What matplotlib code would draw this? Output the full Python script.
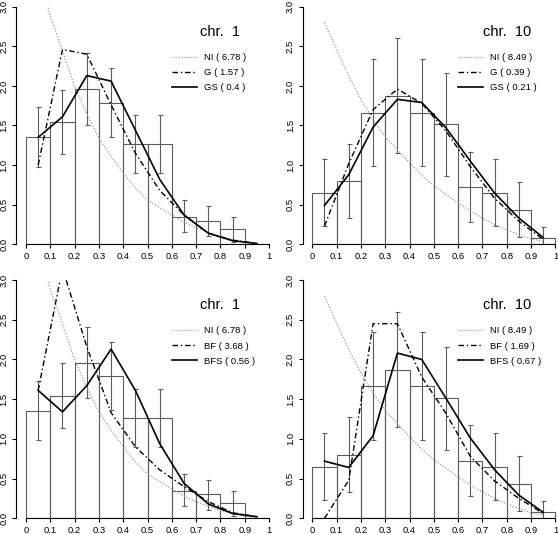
import numpy as np
import matplotlib
matplotlib.use('Agg')
import matplotlib.pyplot as plt

plt.rcParams['font.family'] = ['Liberation Sans', 'DejaVu Sans']

# histogram bins (left edges) and bin centres
bin_left = [0.0, 0.1, 0.2, 0.3, 0.4, 0.5, 0.6, 0.7, 0.8, 0.9]
centers = [0.05, 0.15, 0.25, 0.35, 0.45, 0.55, 0.65, 0.75, 0.85, 0.95]
x_ticks = [0, 0.1, 0.2, 0.3, 0.4, 0.5, 0.6, 0.7, 0.8, 0.9, 1]
x_ticklabels = ['0', '0.1', '0.2', '0.3', '0.4', '0.5', '0.6', '0.7', '0.8', '0.9', '1']
y_ticks = [0.0, 0.5, 1.0, 1.5, 2.0, 2.5, 3.0]

# observed densities + error bars
chr1_hist = [1.35, 1.54, 1.96, 1.79, 1.26, 1.26, 0.35, 0.30, 0.19, 0.0]
chr1_lo = [0.98, 1.14, 1.51, 1.36, 0.90, 0.90, 0.16, 0.11, 0.03, np.nan]
chr1_hi = [1.73, 1.95, 2.41, 2.22, 1.63, 1.63, 0.555, 0.48, 0.34, np.nan]
chr10_hist = [0.65, 0.80, 1.66, 1.87, 1.66, 1.52, 0.72, 0.65, 0.435, 0.08]
chr10_lo = [0.23, 0.33, 0.99, 1.15, 0.99, 0.865, 0.28, 0.23, 0.097, 0.0]
chr10_hi = [1.08, 1.27, 2.34, 2.60, 2.34, 2.16, 1.17, 1.08, 0.79, 0.22]

# NI curve (smooth)
ni_x = [0.05, 0.1, 0.15, 0.2, 0.25, 0.3, 0.35, 0.4, 0.45, 0.5,
        0.55, 0.6, 0.65, 0.7, 0.75, 0.8, 0.85, 0.9, 0.95]
chr1_ni = [3.45, 2.88, 2.45, 1.99, 1.65, 1.34, 1.11, 0.90, 0.71, 0.56,
           0.46, 0.37, 0.28, 0.21, 0.15, 0.10, 0.06, 0.03, 0.01]
chr10_ni = [2.80, 2.46, 2.12, 1.83, 1.57, 1.36, 1.19, 1.03, 0.87, 0.74,
            0.63, 0.52, 0.42, 0.33, 0.25, 0.18, 0.12, 0.07, 0.035]

# model fits at bin centres
chr1_g = [1.0, 2.46, 2.40, 1.76, 1.15, 0.68, 0.37, 0.14, 0.05, 0.01]
chr1_gs = [1.35, 1.61, 2.13, 2.06, 1.44, 0.82, 0.37, 0.14, 0.045, 0.01]
chr1_bf = [1.61, 3.15, 2.16, 1.33, 0.90, 0.61, 0.40, 0.21, 0.07, 0.02]
chr1_bfs = [1.61, 1.34, 1.67, 2.13, 1.61, 0.94, 0.44, 0.18, 0.06, 0.02]
chr10_g = [0.23, 1.02, 1.70, 1.96, 1.78, 1.43, 0.98, 0.58, 0.29, 0.06]
chr10_gs = [0.49, 0.88, 1.48, 1.83, 1.79, 1.47, 1.05, 0.645, 0.33, 0.085]
chr10_bf = [0.0, 0.48, 2.45, 2.45, 1.78, 1.32, 0.78, 0.47, 0.25, 0.06]
chr10_bfs = [0.72, 0.64, 1.04, 2.08, 2.00, 1.51, 1.01, 0.61, 0.29, 0.075]

panels = [
    # rect, title, hist, lo, hi, ni, fit1, fit2, labels
    ([0.0292, 0.5434, 0.4705, 0.4441], 'chr.  1', chr1_hist, chr1_lo, chr1_hi, chr1_ni,
     chr1_g, chr1_gs, ['NI ( 6.78 )', 'G ( 1.57 )', 'GS ( 0.4 )']),
    ([0.5423, 0.5434, 0.4705, 0.4441], 'chr.  10', chr10_hist, chr10_lo, chr10_hi, chr10_ni,
     chr10_g, chr10_gs, ['NI ( 8.49 )', 'G ( 0.39 )', 'GS ( 0.21 )']),
    ([0.0292, 0.0312, 0.4705, 0.4454], 'chr.  1', chr1_hist, chr1_lo, chr1_hi, chr1_ni,
     chr1_bf, chr1_bfs, ['NI ( 6.78 )', 'BF ( 3.68 )', 'BFS ( 0.56 )']),
    ([0.5423, 0.0312, 0.4705, 0.4454], 'chr.  10', chr10_hist, chr10_lo, chr10_hi, chr10_ni,
     chr10_bf, chr10_bfs, ['NI ( 8.49 )', 'BF ( 1.69 )', 'BFS ( 0.67 )']),
]

fig = plt.figure(figsize=(5.58, 5.35), dpi=100)
gray = '#5c5c5c'

for rect, title, hist, lo, hi, ni, fit1, fit2, labels in panels:
    ax = fig.add_axes(rect)
    ax.bar(bin_left, hist, width=0.1, align='edge', fill=False,
           edgecolor=gray, linewidth=0.8)
    lo = np.array(lo)
    hi = np.array(hi)
    mid = (lo + hi) / 2
    ax.errorbar(centers, mid, yerr=[mid - lo, hi - mid], fmt='none',
                ecolor=gray, elinewidth=0.8, capsize=1.8, capthick=0.8)
    l1, = ax.plot(ni_x, ni, color='#999999', lw=0.9, linestyle=(0, (1, 1.4)))
    l2, = ax.plot(centers, fit1, color='black', lw=1.0, linestyle=(0, (4, 2, 1, 2)))
    l3, = ax.plot(centers, fit2, color='black', lw=1.2)

    ax.set_xlim(-0.04, 1.04)
    ax.set_ylim(0, 3)
    for s in ['top', 'right']:
        ax.spines[s].set_visible(False)
    ax.spines['bottom'].set_bounds(0, 1)
    ax.spines['left'].set_bounds(0, 3)
    ax.spines['bottom'].set_linewidth(0.8)
    ax.spines['left'].set_linewidth(0.8)
    ax.set_xticks(x_ticks)
    ax.set_xticklabels(x_ticklabels, fontsize=6.8)
    ax.set_yticks(y_ticks)
    ax.set_yticklabels(['%.1f' % v for v in y_ticks], fontsize=6.8,
                       rotation=90, va='center')
    ax.tick_params(axis='x', length=3, width=0.8, pad=2.2)
    ax.tick_params(axis='y', length=3, width=0.8, pad=2.5)
    ax.patch.set_alpha(0)

    ax.text(0.80, 2.68, title, fontsize=10.5, ha='center', va='center')
    ax.legend([l1, l2, l3], labels, loc='upper left',
              bbox_to_anchor=(0.5926, 0.805), frameon=False, fontsize=6.8,
              borderpad=0, borderaxespad=0, handlelength=2.65,
              handletextpad=0.75, labelspacing=0.65)

fig.savefig('out.png', dpi=100)
